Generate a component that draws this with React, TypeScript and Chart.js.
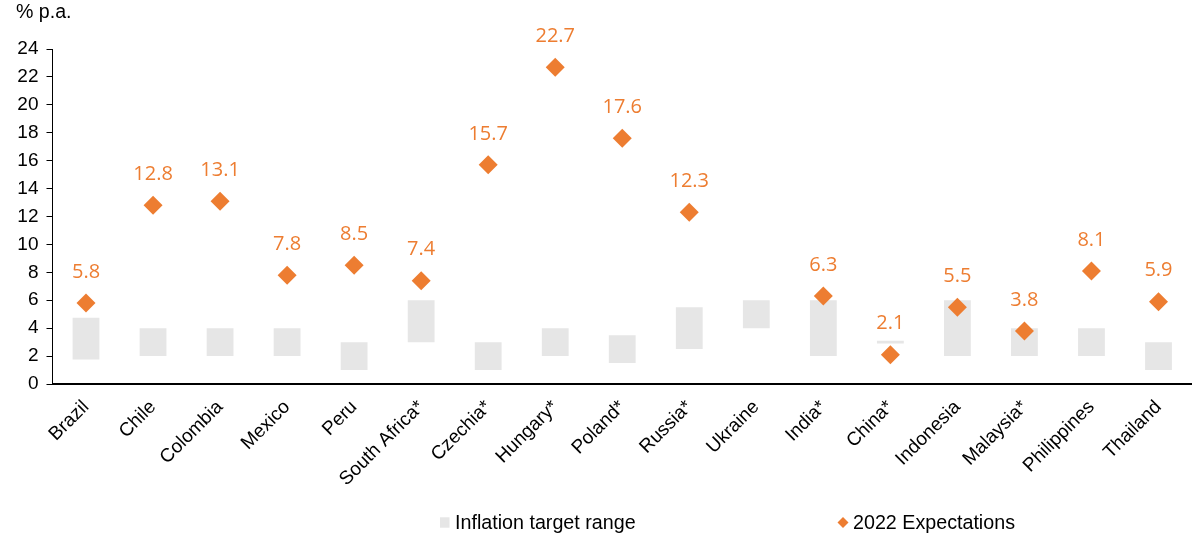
import React, { useEffect, useRef } from 'react';
import { Chart, registerables } from 'chart.js';

Chart.register(...registerables);

const categories = ['Brazil', 'Chile', 'Colombia', 'Mexico', 'Peru', 'South Africa*', 'Czechia*', 'Hungary*', 'Poland*', 'Russia*', 'Ukraine', 'India*', 'China*', 'Indonesia', 'Malaysia*', 'Philippines', 'Thailand'];
const targetLow = [1.75, 2, 2, 2, 1, 3, 1, 2, 1.5, 2.5, 4, 2, 2.9, 2, 2, 2, 1];
const targetHigh = [4.75, 4, 4, 4, 3, 6, 3, 4, 3.5, 5.5, 6, 6, 3.1, 6, 4, 4, 3];
const expectations = [5.8, 12.8, 13.1, 7.8, 8.5, 7.4, 15.7, 22.7, 17.6, 12.3, null, 6.3, 2.1, 5.5, 3.8, 8.1, 5.9];
const yTicks = [0, 2, 4, 6, 8, 10, 12, 14, 16, 18, 20, 22, 24];
const unitLabel = '% p.a.';
const legendRange = 'Inflation target range';
const legendExp = '2022 Expectations';

const ORANGE = '#ED7D31';
const GREY = '#E6E6E6';
const FAMILY = 'Arial, "Liberation Sans", sans-serif';

export default function App() {
  const ref = useRef<HTMLCanvasElement | null>(null);

  useEffect(() => {
    if (!ref.current) return;

    const extras = {
      id: 'extras',
      afterDatasetsDraw(chart: any) {
        const ctx = chart.ctx;
        const meta = chart.getDatasetMeta(1);
        ctx.save();
        ctx.fillStyle = ORANGE;
        ctx.font = '20px "Open Sans", sans-serif';
        ctx.textAlign = 'center';
        ctx.textBaseline = 'middle';
        meta.data.forEach((pt: any, i: number) => {
          const v = expectations[i];
          if (v === null || v === undefined) return;
          ctx.fillText(v.toFixed(1), pt.x, pt.y - 31);
        });
        ctx.restore();
      },
      afterDraw(chart: any) {
        const ctx = chart.ctx;
        ctx.save();
        ctx.fillStyle = '#000';
        ctx.font = '19.6px ' + FAMILY;
        ctx.textAlign = 'left';
        ctx.textBaseline = 'alphabetic';
        ctx.fillText(unitLabel, 16, 17.5);
        // legend
        const ly = 522.5;
        ctx.font = '19.7px ' + FAMILY;
        ctx.fillStyle = GREY;
        ctx.fillRect(440, ly - 5.2, 9.5, 10.4);
        ctx.fillStyle = '#000';
        ctx.fillText(legendRange, 455, 529);
        ctx.fillStyle = ORANGE;
        ctx.beginPath();
        ctx.moveTo(843, ly - 5.5);
        ctx.lineTo(848.5, ly);
        ctx.lineTo(843, ly + 5.5);
        ctx.lineTo(837.5, ly);
        ctx.closePath();
        ctx.fill();
        ctx.fillStyle = '#000';
        ctx.fillText(legendExp, 853, 529);
        ctx.restore();
      },
    };

    const chart = new Chart(ref.current, {
      type: 'bar',
      data: {
        labels: categories,
        datasets: [
          {
            type: 'bar',
            label: legendRange,
            data: targetLow.map((l, i) => [l, targetHigh[i]]),
            backgroundColor: GREY,
            borderWidth: 0,
            barPercentage: 0.4,
            categoryPercentage: 1,
            order: 2,
          },
          {
            type: 'line',
            label: legendExp,
            data: expectations,
            showLine: false,
            pointStyle: 'rectRot',
            pointRadius: 9.5,
            pointHoverRadius: 9.5,
            backgroundColor: ORANGE,
            borderColor: ORANGE,
            borderWidth: 0,
            order: 1,
          } as any,
        ],
      },
      options: {
        responsive: false,
        animation: false,
        events: [],
        layout: { autoPadding: false, padding: { top: 49, left: 0, right: 0, bottom: 0 } },
        plugins: {
          legend: { display: false },
          tooltip: { enabled: false },
          title: { display: false },
        },
        scales: {
          x: {
            offset: true,
            grid: { display: false, drawTicks: false },
            border: { display: true, color: '#000', width: 2 },
            ticks: {
              color: '#000',
              font: { family: FAMILY, size: 19 },
              maxRotation: 45,
              minRotation: 45,
              autoSkip: false,
              padding: 12,
            },
            afterFit: (s: any) => { s.height = 151; s.paddingRight = 0; s.paddingLeft = 0; },
          },
          y: {
            min: 0,
            max: 24,
            afterBuildTicks: (s: any) => { s.ticks = yTicks.map((v) => ({ value: v })); },
            grid: { display: true, drawOnChartArea: false, drawTicks: true, tickLength: 6, color: '#000', lineWidth: 1 },
            border: { display: true, color: '#000', width: 1 },
            ticks: {
              color: '#000',
              font: { family: FAMILY, size: 19 },
              padding: 8,
            },
            afterFit: (s: any) => { s.width = 52.5; s.paddingTop = 0; s.paddingBottom = 0; },
          },
        },
      },
      plugins: [extras],
    });

    return () => chart.destroy();
  }, []);

  return (
    <div style={{ position: 'fixed', left: 0, top: 0, width: 1192, height: 535, background: '#fff' }}>
      <canvas ref={ref} width={1192} height={535} style={{ display: 'block', width: 1192, height: 535 }} />
    </div>
  );
}
